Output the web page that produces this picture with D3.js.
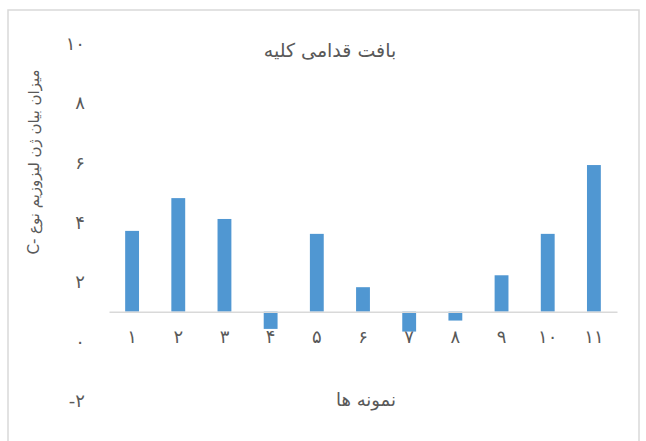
<!DOCTYPE html>
<html>
<head>
<meta charset="utf-8">
<script src="https://cdn.jsdelivr.net/npm/d3@7"></script>
<style>
  body { margin: 0; background: #fff; }
  text { font-family: "DejaVu Sans", sans-serif; }
</style>
</head>
<body>
<svg class="chart"></svg>
<script>
// chart data
var categories = ["۱", "۲", "۳", "۴", "۵", "۶", "۷", "۸", "۹", "۱۰", "۱۱"];
var values = [3.71, 4.81, 4.11, 0.42, 3.61, 1.82, 0.33, 0.70, 2.22, 3.61, 5.92];
var yTicks = [-2, 0, 2, 4, 6, 8, 10];
var yTickLabels = ["-۲", "۰", "۲", "۴", "۶", "۸", "۱۰"];
var baseValue = 1; // horizontal axis crosses at 1
var title = "بافت قدامی کلیه";
var xTitle = "نمونه ها";
var yTitle = "میزان بیان ژن لیزوزیم نوع -C";

var width = 646;
var height = 441;

var svg = d3.select(".chart")
  .attr("width", width)
  .attr("height", height);

// outer chart border
svg.append("rect")
  .attr("x", 8)
  .attr("y", 10)
  .attr("width", 631)
  .attr("height", 445)
  .attr("fill", "none")
  .attr("stroke", "#d9d9d9")
  .attr("stroke-width", 1.5);

var x = d3.scaleBand()
  .domain(categories)
  .range([109, 617])
  .paddingInner(0.7)
  .paddingOuter(0.35);

var y = d3.scaleLinear()
  .domain([-2, 10])
  .range([401, 43.5]);

// bars
svg.selectAll("rect.bar")
  .data(values)
  .enter()
  .append("rect")
  .attr("class", "bar")
  .attr("x", function(d, i) { return x(categories[i]); })
  .attr("y", function(d) { return Math.min(y(d), y(baseValue)); })
  .attr("width", x.bandwidth())
  .attr("height", function(d) { return Math.abs(y(d) - y(baseValue)); })
  .attr("fill", "#5097d2");

// x axis at crossing value
var xAxis = svg.append("g")
  .attr("transform", "translate(0," + y(baseValue) + ")")
  .call(d3.axisBottom(x).tickSize(0).tickPadding(19));
xAxis.select(".domain")
  .attr("stroke", "#d9d9d9")
  .attr("stroke-width", 1.5);
xAxis.selectAll("text")
  .attr("font-family", "DejaVu Sans, sans-serif")
  .attr("font-size", "18px")
  .attr("fill", "#595959");

// y axis labels only
var yAxis = svg.append("g")
  .attr("transform", "translate(85,0)")
  .call(d3.axisLeft(y)
    .tickValues(yTicks)
    .tickSize(0)
    .tickPadding(0)
    .tickFormat(function(d, i) { return yTickLabels[i]; }));
yAxis.select(".domain").remove();
yAxis.selectAll("text")
  .attr("font-family", "DejaVu Sans, sans-serif")
  .attr("font-size", "18px")
  .attr("fill", "#595959")
  .attr("direction", "ltr");

// titles
svg.append("text")
  .text(title)
  .attr("x", 330)
  .attr("y", 57)
  .attr("text-anchor", "middle")
  .attr("direction", "rtl")
  .attr("font-size", "19px")
  .attr("fill", "#595959");

svg.append("text")
  .text(xTitle)
  .attr("x", 366)
  .attr("y", 406)
  .attr("text-anchor", "middle")
  .attr("direction", "rtl")
  .attr("font-size", "18px")
  .attr("fill", "#595959");

svg.append("text")
  .text(yTitle)
  .attr("transform", "translate(39,162) rotate(-90)")
  .attr("text-anchor", "middle")
  .attr("direction", "rtl")
  .attr("font-size", "15px")
  .attr("fill", "#595959");
</script>
</body>
</html>
